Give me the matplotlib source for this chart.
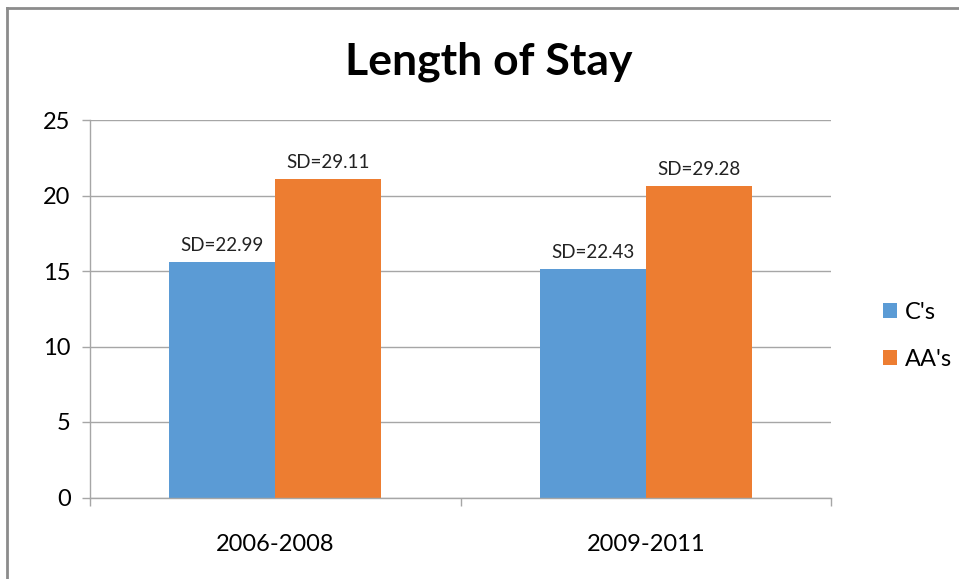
import matplotlib
matplotlib.use('Agg')
import matplotlib.pyplot as plt
import numpy as np
from matplotlib.lines import Line2D

plt.rcParams['font.family'] = ['Lato', 'DejaVu Sans']

periods = ['2006-2008', '2009-2011']
series = ["C's", "AA's"]
cs_vals = [15.6, 15.1]
aas_vals = [21.1, 20.6]
cs_sd = ['SD=22.99', 'SD=22.43']
aas_sd = ['SD=29.11', 'SD=29.28']

blue = '#5B9BD5'
orange = '#ED7D31'
grid_col = '#A6A6A6'

fig = plt.figure(figsize=(9.59, 5.79), dpi=100)
ax = fig.add_axes([90/959, 1-497.5/579, 741/959, 377.5/579])

x = np.arange(len(periods)) + 0.5
w = 0.286
b1 = ax.bar(x - w/2, cs_vals, w, color=blue, label=series[0])
b2 = ax.bar(x + w/2, aas_vals, w, color=orange, label=series[1])

for bars, labels in ((b1, cs_sd), (b2, aas_sd)):
    for r, t in zip(bars, labels):
        ax.annotate(t, (r.get_x() + r.get_width()/2, r.get_height()),
                    xytext=(0, 6), textcoords='offset points',
                    ha='center', va='bottom', fontsize=13.5, color='#222222')

ax.set_xlim(0, 2)
ax.set_ylim(0, 25)
ax.set_yticks([0, 5, 10, 15, 20, 25])
ax.yaxis.grid(True, color=grid_col, linewidth=1)
ax.set_axisbelow(True)

ax.set_xticks(x)
ax.set_xticklabels(periods)
ax.set_xticks([0, 1, 2], minor=True)
ax.tick_params(axis='x', which='major', length=0, pad=26, labelsize=17)
ax.tick_params(axis='x', which='minor', length=6, color=grid_col, width=1)
ax.tick_params(axis='y', length=6, color=grid_col, width=1, labelsize=17, pad=8)

for s in ['top', 'right']:
    ax.spines[s].set_visible(False)
for s in ['left', 'bottom']:
    ax.spines[s].set_color(grid_col)
    ax.spines[s].set_linewidth(1)

fig.suptitle('Length of Stay', x=489/959, y=1-41/579, va='top',
             fontsize=32, fontweight='bold')

fig.legend(handles=[b1, b2], loc='center left', bbox_to_anchor=(862/959, 1-336/579),
           frameon=False, fontsize=17, handlelength=0.6, handleheight=0.6,
           handletextpad=0.3, labelspacing=1.1)

# outer chart frame (cropped at right and bottom)
fig.add_artist(Line2D([7/959, 7/959], [0, 1-8/579], color='#8C8C8C', linewidth=2,
                      transform=fig.transFigure))
fig.add_artist(Line2D([7/959, 1], [1-8/579, 1-8/579], color='#8C8C8C', linewidth=2,
                      transform=fig.transFigure))

fig.savefig('out.png', dpi=100)
